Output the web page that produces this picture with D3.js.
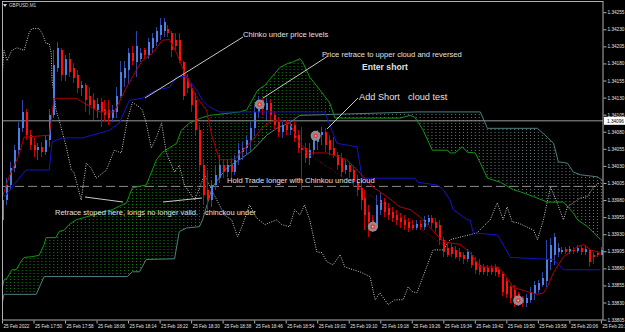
<!DOCTYPE html>
<html><head><meta charset="utf-8">
<script src="https://cdn.jsdelivr.net/npm/d3@7"></script>
<style>html,body{margin:0;padding:0;background:#000;overflow:hidden}svg{display:block}</style>
</head><body><svg id="c" width="625" height="332"></svg>
<script>
// ---------------- DATA ----------------
const symbol = "GBPUSD,M1";
const timeLabels = ["25 Feb 2022","25 Feb 17:50","25 Feb 17:58","25 Feb 18:06","25 Feb 18:14","25 Feb 18:22","25 Feb 18:30","25 Feb 18:38","25 Feb 18:46","25 Feb 18:54","25 Feb 19:02","25 Feb 19:10","25 Feb 19:18","25 Feb 19:26","25 Feb 19:34","25 Feb 19:42","25 Feb 19:50","25 Feb 19:58","25 Feb 20:06","25 Feb 20:14"];
const timeLabelBars = [0,8,16,24,32,40,48,56,64,72,80,88,96,104,112,120,128,136,144,152];
const priceTicks = [1.34255,1.34230,1.34205,1.34180,1.34155,1.34130,1.34105,1.34080,1.34055,1.34030,1.34005,1.33980,1.33955,1.33930,1.33905,1.33880,1.33855,1.33830,1.33805];
const lastPrice = 1.34096;
const levelPrice = 1.34000;

const open = [1.33951,1.33980,1.34002,1.34027,1.34053,1.34085,1.34109,1.34075,1.34060,1.34053,
1.34057,1.34050,1.34068,1.34104,1.34173,1.34199,1.34163,1.34187,1.34173,1.34163,
1.34144,1.34148,1.34133,1.34126,1.34112,1.34123,1.34114,1.34112,1.34100,1.34109,
1.34133,1.34158,1.34170,1.34196,1.34182,1.34187,1.34199,1.34192,1.34202,1.34211,
1.34221,1.34228,1.34231,1.34225,1.34214,1.34214,1.34182,1.34158,1.34144,1.34126,
1.34082,1.34031,1.33995,1.33980,1.34002,1.34012,1.34031,1.34021,1.34031,1.34021,
1.34039,1.34050,1.34056,1.34068,1.34085,1.34109,1.34126,1.34112,1.34122,1.34104,
1.34094,1.34079,1.34090,1.34082,1.34090,1.34075,1.34056,1.34056,1.34041,1.34053,
1.34065,1.34075,1.34079,1.34068,1.34056,1.34046,1.34041,1.34024,1.34031,1.34024,
1.34006,1.33998,1.33983,1.33963,1.33951,1.33939,1.33966,1.33977,1.33969,1.33963,
1.33958,1.33954,1.33951,1.33948,1.33944,1.33939,1.33945,1.33941,1.33948,1.33954,
1.33948,1.33944,1.33922,1.33910,1.33912,1.33907,1.33904,1.33900,1.33893,1.33900,
1.33890,1.33885,1.33882,1.33881,1.33881,1.33882,1.33878,1.33872,1.33861,1.33852,
1.33849,1.33842,1.33837,1.33830,1.33834,1.33842,1.33849,1.33856,1.33861,1.33890,
1.33900,1.33904,1.33904,1.33909,1.33904,1.33907,1.33906,1.33910,1.33904,1.33907,
1.33900,1.33903,1.33900];
const high = [1.33987,1.34012,1.34036,1.34060,1.34094,1.34126,1.34114,1.34082,1.34071,1.34063,
1.34065,1.34074,1.34114,1.34199,1.34211,1.34203,1.34192,1.34195,1.34180,1.34170,
1.34155,1.34151,1.34145,1.34136,1.34130,1.34130,1.34126,1.34126,1.34119,1.34145,
1.34184,1.34184,1.34203,1.34206,1.34228,1.34202,1.34203,1.34217,1.34224,1.34233,
1.34247,1.34246,1.34236,1.34228,1.34224,1.34224,1.34184,1.34165,1.34151,1.34136,
1.34090,1.34039,1.34024,1.34009,1.34031,1.34046,1.34039,1.34039,1.34041,1.34046,
1.34063,1.34065,1.34075,1.34094,1.34119,1.34133,1.34130,1.34129,1.34126,1.34109,
1.34100,1.34097,1.34097,1.34097,1.34094,1.34082,1.34087,1.34063,1.34063,1.34072,
1.34082,1.34087,1.34085,1.34075,1.34072,1.34050,1.34049,1.34039,1.34036,1.34028,
1.34017,1.34009,1.33995,1.33973,1.33958,1.33987,1.33992,1.33983,1.33976,1.33970,
1.33966,1.33961,1.33958,1.33954,1.33951,1.33951,1.33951,1.33957,1.33958,1.33958,
1.33954,1.33951,1.33926,1.33919,1.33917,1.33913,1.33910,1.33904,1.33909,1.33904,
1.33896,1.33893,1.33887,1.33885,1.33885,1.33887,1.33882,1.33875,1.33866,1.33856,
1.33855,1.33846,1.33840,1.33843,1.33852,1.33861,1.33863,1.33874,1.33922,1.33925,
1.33932,1.33917,1.33912,1.33912,1.33913,1.33912,1.33914,1.33913,1.33914,1.33909,
1.33904,1.33906,1.33912];
const low = [1.33944,1.33973,1.33995,1.34021,1.34046,1.34079,1.34068,1.34053,1.34043,1.34039,
1.34043,1.34046,1.34057,1.34100,1.34167,1.34155,1.34155,1.34160,1.34152,1.34136,
1.34133,1.34109,1.34104,1.34097,1.34100,1.34087,1.34094,1.34090,1.34094,1.34100,
1.34129,1.34145,1.34151,1.34177,1.34160,1.34182,1.34187,1.34187,1.34196,1.34206,
1.34214,1.34218,1.34218,1.34189,1.34199,1.34180,1.34126,1.34136,1.34109,1.34075,
1.34021,1.33973,1.33958,1.33970,1.33995,1.34005,1.34012,1.34014,1.34012,1.34017,
1.34031,1.34039,1.34046,1.34053,1.34075,1.34100,1.34104,1.34097,1.34097,1.34082,
1.34072,1.34071,1.34075,1.34075,1.34065,1.34049,1.33995,1.34034,1.34031,1.34046,
1.34053,1.34060,1.34050,1.34046,1.34041,1.34024,1.34014,1.34018,1.34012,1.33999,
1.33986,1.33966,1.33936,1.33926,1.33933,1.33936,1.33958,1.33955,1.33951,1.33948,
1.33944,1.33939,1.33936,1.33933,1.33936,1.33936,1.33936,1.33936,1.33944,1.33939,
1.33933,1.33914,1.33897,1.33896,1.33897,1.33893,1.33891,1.33887,1.33890,1.33881,
1.33872,1.33871,1.33871,1.33869,1.33871,1.33869,1.33868,1.33839,1.33836,1.33830,
1.33824,1.33825,1.33824,1.33823,1.33830,1.33834,1.33844,1.33852,1.33853,1.33878,
1.33885,1.33896,1.33901,1.33901,1.33901,1.33901,1.33903,1.33900,1.33900,1.33882,
1.33887,1.33896,1.33899];
const close = [1.33980,1.34002,1.34027,1.34053,1.34085,1.34109,1.34075,1.34060,1.34053,1.34057,
1.34050,1.34068,1.34104,1.34177,1.34202,1.34163,1.34187,1.34167,1.34158,1.34144,
1.34149,1.34126,1.34119,1.34114,1.34120,1.34109,1.34104,1.34100,1.34112,1.34133,
1.34167,1.34173,1.34196,1.34184,1.34206,1.34196,1.34192,1.34211,1.34217,1.34228,
1.34236,1.34240,1.34225,1.34199,1.34206,1.34184,1.34133,1.34144,1.34119,1.34082,
1.34031,1.33987,1.33980,1.34002,1.34017,1.34031,1.34021,1.34031,1.34021,1.34039,
1.34053,1.34056,1.34068,1.34085,1.34109,1.34126,1.34114,1.34122,1.34104,1.34090,
1.34079,1.34090,1.34082,1.34091,1.34071,1.34056,1.34053,1.34041,1.34053,1.34068,
1.34076,1.34079,1.34060,1.34053,1.34046,1.34031,1.34021,1.34031,1.34021,1.34006,
1.33995,1.33980,1.33958,1.33948,1.33942,1.33973,1.33980,1.33963,1.33958,1.33954,
1.33951,1.33948,1.33944,1.33939,1.33939,1.33945,1.33941,1.33951,1.33954,1.33947,
1.33939,1.33922,1.33904,1.33900,1.33901,1.33897,1.33896,1.33893,1.33904,1.33885,
1.33878,1.33875,1.33875,1.33874,1.33875,1.33875,1.33872,1.33846,1.33842,1.33837,
1.33831,1.33834,1.33830,1.33837,1.33846,1.33856,1.33859,1.33866,1.33893,1.33914,
1.33926,1.33910,1.33907,1.33904,1.33909,1.33906,1.33910,1.33904,1.33909,1.33890,
1.33896,1.33899,1.33907];

// indicator lines: [bar index, price]
const tenkan = [[0,1.33983],[1.8,1.34014],[4.3,1.34046],[5.6,1.34072],[12,1.34075],[13.2,1.34129],[18.8,1.34129],[19.6,1.34126],[24.7,1.34109],[28.5,1.34109],[31.6,1.34145],[34.1,1.34170],[35.6,1.34184],[38.2,1.34195],[40.7,1.34214],[42.5,1.34215],[44.3,1.34195],[46.8,1.34160],[49.4,1.34130],[51.9,1.34112],[53.2,1.34075],[55.2,1.34039],[59,1.34039],[61.6,1.34056],[63.6,1.34068],[65.9,1.34085],[67.9,1.34094],[69.7,1.34097],[73,1.34093],[75.6,1.34063],[78.1,1.34049],[82.4,1.34049],[84,1.34046],[87.5,1.34039],[90.1,1.34024],[94.1,1.33999],[97.7,1.33985],[101,1.33970],[103.6,1.33966],[106.1,1.33955],[112,1.33919],[116.3,1.33915],[118.8,1.33903],[121.4,1.33882],[125.7,1.33882],[127.2,1.33874],[129.8,1.33852],[133.3,1.33846],[135.9,1.33842],[137.4,1.33844],[138.4,1.33853],[140,1.33874],[142.5,1.33897],[146.1,1.33912],[147.6,1.33915],[149.4,1.33907],[151.9,1.33903]];
const kijun = [[0,1.33985],[1,1.33987],[2.5,1.33999],[6.1,1.34024],[12,1.34024],[12.7,1.34065],[15.3,1.34071],[20.4,1.34071],[27.2,1.34082],[29.8,1.34093],[32.3,1.34126],[35.6,1.34129],[39.2,1.34141],[42.5,1.34145],[44.3,1.34160],[46.8,1.34161],[49.4,1.34141],[50.9,1.34126],[52.7,1.34116],[55.2,1.34109],[81.9,1.34109],[85,1.34063],[90.1,1.34058],[91.4,1.34012],[104.8,1.34012],[105.6,1.34006],[110.4,1.34002],[112,1.33995],[113.7,1.33980],[114.5,1.33966],[118.1,1.33951],[118.8,1.33951],[119.6,1.33932],[125.7,1.33929],[126.5,1.33922],[129,1.33896],[140,1.33893],[142.5,1.33878],[151.9,1.33878]];
const senkouA = [[0,1.33849],[0.5,1.33863],[1.3,1.33866],[2.5,1.33878],[3.6,1.33878],[4.8,1.33890],[5.6,1.33896],[7.4,1.33897],[9.4,1.33899],[10.7,1.33915],[11.2,1.33925],[13.7,1.33925],[14.5,1.33934],[15.8,1.33936],[17,1.33944],[18.8,1.33951],[24.7,1.33961],[28,1.33966],[31.6,1.33976],[33.1,1.33998],[36.6,1.34002],[39.2,1.34039],[40.7,1.34050],[44.3,1.34063],[45.5,1.34082],[47.6,1.34093],[50.9,1.34101],[52.7,1.34104],[60.3,1.34109],[62.1,1.34112],[64.9,1.34141],[66.7,1.34148],[70.5,1.34174],[72.5,1.34180],[73.8,1.34182],[75.6,1.34187],[76.3,1.34182],[78.1,1.34160],[80.7,1.34141],[83.2,1.34122],[84.5,1.34100],[101,1.34100],[103.6,1.34104],[104.8,1.34101],[106.9,1.34082],[109.2,1.34053],[113,1.34053],[113.7,1.34049],[115,1.34049],[116.8,1.34058],[118.1,1.34050],[120.1,1.34049],[121.4,1.34034],[123.2,1.34012],[126.5,1.34006],[129.8,1.33995],[131.6,1.33992],[134.9,1.33985],[138.4,1.33977],[142.5,1.33977],[145,1.33961],[146.1,1.33951],[148.6,1.33941],[151.9,1.33922]];
const senkouB = [[0,1.33827],[0.5,1.33842],[8.7,1.33842],[10.7,1.33868],[31.8,1.33868],[33.1,1.33875],[34.9,1.33875],[36.6,1.33893],[43.8,1.33894],[45,1.33934],[46.8,1.33939],[50.1,1.33941],[50.9,1.33951],[53.4,1.33999],[57,1.34027],[60.3,1.34039],[63.6,1.34053],[67.2,1.34075],[69.7,1.34085],[73,1.34093],[75.6,1.34104],[105.3,1.34109],[121.4,1.34109],[123.2,1.34085],[135.9,1.34085],[138.4,1.34072],[140,1.34063],[141.2,1.34036],[143.5,1.34034],[145,1.34021],[146.8,1.34017],[151.1,1.34014],[152.4,1.34009]];
const chinkou = [[0,1.34160],[0.5,1.34199],[1.3,1.34184],[2.5,1.34199],[3.8,1.34203],[5.6,1.34199],[6.9,1.34225],[7.6,1.34231],[9.4,1.34231],[10.2,1.34224],[11.2,1.34209],[12,1.34209],[12.5,1.34195],[12.7,1.34155],[13.2,1.34136],[13.7,1.34112],[14.5,1.34097],[16.3,1.34058],[17.6,1.34024],[18.3,1.34020],[20.1,1.33980],[21.4,1.34034],[22.6,1.34027],[23.9,1.34012],[26.5,1.34024],[28.5,1.34053],[30.3,1.34049],[31.8,1.34097],[33.1,1.34123],[34.9,1.34116],[35.6,1.34112],[36.6,1.34093],[37.9,1.34056],[39.2,1.34072],[40.5,1.34093],[41.7,1.34049],[43.8,1.34021],[45,1.34031],[46.3,1.34002],[48.9,1.33980],[51.4,1.34017],[53.9,1.33987],[56.5,1.33958],[58.3,1.33951],[59.8,1.33926],[61.1,1.33944],[62.8,1.33973],[64.6,1.33954],[66.7,1.33944],[69.7,1.33951],[71,1.33944],[73,1.33941],[74.3,1.33966],[75.6,1.33958],[76.8,1.33973],[78.1,1.33951],[79.9,1.33904],[81.2,1.33903],[82.4,1.33890],[84,1.33885],[85.8,1.33900],[87,1.33882],[89.1,1.33878],[90.8,1.33875],[93.4,1.33868],[94.7,1.33834],[95.9,1.33844],[98,1.33827],[99.7,1.33834],[101.8,1.33834],[103.1,1.33853],[104.1,1.33846],[105.3,1.33844],[109.4,1.33907],[112,1.33907],[113.7,1.33922],[120.6,1.33932],[122.1,1.33941],[123.9,1.33951],[125.7,1.33976],[127.2,1.33951],[128.2,1.33970],[129.5,1.33948],[130.8,1.33947],[134.9,1.33936],[135.9,1.33922],[137.4,1.33951],[139.2,1.33999],[140.9,1.33976],[142.5,1.33951],[143.5,1.33970],[146.8,1.33983],[148.6,1.33985],[150.1,1.33999],[151.9,1.34006]];
const trendLine = [[76.3,1.34053],[112,1.33915]];
const signals = [[65.4,1.34120],[79.6,1.34074],[94.1,1.33941],[131,1.33833]];
const cloudTwist = 84.3;

// annotations (text + leader lines, screen layout)
const notes = [
  {t:"Chinko under price levels", x:243, y:37, size:7.6, w:"normal"},
  {t:"Price retrace to upper cloud and reversed", x:322, y:57, size:7.6, w:"normal"},
  {t:"Enter short", x:362, y:69.5, size:8.6, w:"bold"},
  {t:"Add Short", x:359, y:99.5, size:9.2, w:"normal"},
  {t:"cloud test", x:408, y:99.5, size:9.2, w:"normal"},
  {t:"Hold Trade longer with Chinkou under cloud", x:227, y:183, size:7.6, w:"normal"},
  {t:"Retrace stoped here, longs no longer valid.", x:55, y:215, size:7.5, w:"normal"},
  {t:"chinckou under", x:205, y:215, size:7.5, w:"normal"}
];
const leaders = [[145,98,243,37],[263,98,328,56],[327,129,358,98],[85,197,123,202],[163,202,202,198]];

// ---------------- DRAW ----------------
const svg = d3.select("#c");
const L=2,T=2,R=603,B=320;
const x = d3.scaleLinear().domain([0,152]).range([2,600.9]);
const y = d3.scaleLinear().domain([1.33805,1.34255]).range([319.6,12.2]);
const font = "'Liberation Sans', Arial, sans-serif";

svg.append("rect").attr("width",625).attr("height",332).attr("fill","#000");
const defs = svg.append("defs");
defs.append("clipPath").attr("id","plot").append("rect").attr("x",L).attr("y",T).attr("width",R-L).attr("height",B-T);
defs.append("clipPath").attr("id","cBull").append("rect").attr("x",L).attr("y",T).attr("width",x(cloudTwist)-L).attr("height",B-T);
defs.append("clipPath").attr("id","cBear").append("rect").attr("x",x(cloudTwist)).attr("y",T).attr("width",R-x(cloudTwist)).attr("height",B-T);
function pat(id,col){
  const p=defs.append("pattern").attr("id",id).attr("patternUnits","userSpaceOnUse")
    .attr("width",x(1)-x(0)).attr("height",3).attr("x",x(0)).attr("y",0);
  p.append("rect").attr("width",1).attr("height",1).attr("fill",col);
}
pat("pBull","#088a08"); pat("pBear","#647878");

const g = svg.append("g").attr("clip-path","url(#plot)");
const pt = d=>[x(d[0]),y(d[1])];
const line = d3.line();

// cloud
const cloudPoly = senkouA.map(pt).concat(senkouB.slice().reverse().map(pt));
const cloudPath = line(cloudPoly)+"Z";
g.append("path").attr("d",cloudPath).attr("fill","url(#pBull)").attr("fill-rule","evenodd").attr("clip-path","url(#cBull)");
g.append("path").attr("d",cloudPath).attr("fill","url(#pBear)").attr("fill-rule","evenodd").attr("clip-path","url(#cBear)");

// level lines
g.append("line").attr("x1",L).attr("x2",R).attr("y1",y(levelPrice)).attr("y2",y(levelPrice))
  .attr("stroke","#8a8a8a").attr("stroke-width",1).attr("stroke-dasharray","9,4");
g.append("line").attr("x1",L).attr("x2",R).attr("y1",y(lastPrice)).attr("y2",y(lastPrice))
  .attr("stroke","#9a9a9a").attr("stroke-width",1);

// senkou lines
g.append("path").attr("d",line(senkouB.map(pt))).attr("fill","none").attr("stroke","#4f7f7f").attr("stroke-width",1);
g.append("path").attr("d",line(senkouA.map(pt))).attr("fill","none").attr("stroke","#129612").attr("stroke-width",1);

// chinkou
g.append("path").attr("d",line(chinkou.map(pt))).attr("fill","none").attr("stroke","#c8c8c8").attr("stroke-width",1).attr("stroke-dasharray","1,1.4");

// candles
const cg = g.append("g").attr("shape-rendering","crispEdges");
d3.range(open.length).forEach(i=>{
  const up = close[i]>=open[i];
  const cx = Math.round(x(i));
  cg.append("line").attr("x1",cx+0.5).attr("x2",cx+0.5).attr("y1",y(high[i])).attr("y2",y(low[i]))
    .attr("stroke", up?"#2c47a8":"#c40000").attr("stroke-width",1);
  const y0=y(Math.max(open[i],close[i])), y1=y(Math.min(open[i],close[i]));
  cg.append("rect").attr("x",cx).attr("width",2).attr("y",y0).attr("height",Math.max(1,y1-y0))
    .attr("fill", up?"#4c7ee8":"#ff1010");
});

// kijun, tenkan, trend
g.append("path").attr("d",line(kijun.map(pt))).attr("fill","none").attr("stroke","#1414c8").attr("stroke-width",1);
g.append("path").attr("d",line(tenkan.map(pt))).attr("fill","none").attr("stroke","#b00000").attr("stroke-width",1);
g.append("path").attr("d",line(trendLine.map(pt))).attr("fill","none").attr("stroke","#a00000").attr("stroke-width",1).attr("stroke-dasharray","1,2");

// signal markers
signals.forEach(s=>{
  const [sx,sy]=pt(s);
  g.append("circle").attr("cx",sx).attr("cy",sy).attr("r",5).attr("fill","#8d8d96");
  g.append("circle").attr("cx",sx).attr("cy",sy).attr("r",2.4).attr("fill","#e83a3a");
  g.append("circle").attr("cx",sx).attr("cy",sy).attr("r",0.9).attr("fill","#ffc0a0");
});

// annotations
leaders.forEach(l=>{
  svg.append("line").attr("x1",l[0]).attr("y1",l[1]).attr("x2",l[2]).attr("y2",l[3]).attr("stroke","#c8c8c8").attr("stroke-width",1);
});
notes.forEach(n=>{
  svg.append("text").attr("x",n.x).attr("y",n.y).text(n.t).attr("fill","#e0e0e0")
    .attr("font-family",font).attr("font-size",n.size).attr("font-weight",n.w);
});

// header
svg.append("path").attr("d","M3,4 L7,4 L5,7 Z").attr("fill","#d0d0d0");
svg.append("text").attr("x",9).attr("y",7).text(symbol).attr("fill","#d8d8d8").attr("font-family",font).attr("font-size",4.6);

// frame
svg.append("rect").attr("x",L+0.5).attr("y",T-0.5).attr("width",R-L-0.5).attr("height",B-T+0.5)
  .attr("fill","none").attr("stroke","#b0b0b0").attr("stroke-width",1);

// price axis
const ya = svg.append("g").attr("transform",`translate(${R+0.5},0)`)
  .call(d3.axisRight(y).tickValues(priceTicks).tickFormat(d3.format(".5f")).tickSize(3).tickPadding(1));
ya.select(".domain").remove();
ya.selectAll("line").attr("stroke","#b0b0b0");
ya.selectAll("text").attr("fill","#e0e0e0").attr("font-family",font).attr("font-size",4.7);

// current price box
svg.append("rect").attr("x",R+1).attr("y",y(lastPrice)-4).attr("width",22).attr("height",8).attr("fill","#fff");
svg.append("text").attr("x",R+4).attr("y",y(lastPrice)+1.7).text(d3.format(".5f")(lastPrice))
  .attr("fill","#000").attr("font-family",font).attr("font-size",4.7);

// time axis
const xa = svg.append("g").attr("transform",`translate(0,${B+0.5})`)
  .call(d3.axisBottom(x).tickValues(timeLabelBars).tickFormat((d,i)=>timeLabels[i]).tickSize(3).tickPadding(1));
xa.select(".domain").remove();
xa.selectAll("line").attr("stroke","#b0b0b0");
xa.selectAll("text").attr("fill","#e0e0e0").attr("font-family",font).attr("font-size",4.6)
  .attr("text-anchor","start").attr("dx",1).attr("y",4);
</script></body></html>
